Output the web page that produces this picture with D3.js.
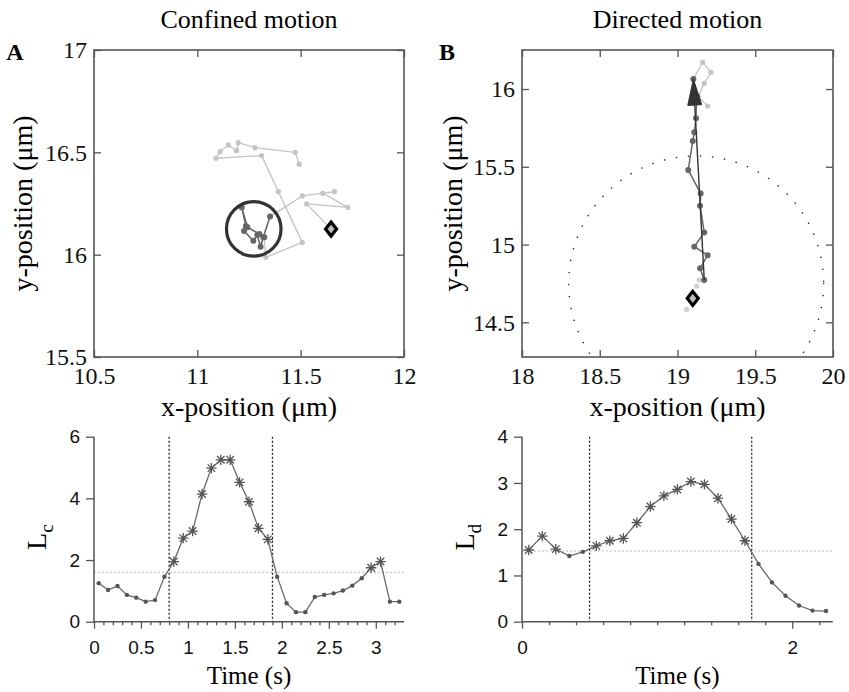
<!DOCTYPE html>
<html><head><meta charset="utf-8">
<script src="https://cdn.jsdelivr.net/npm/d3@7"></script>
<style>body{margin:0;background:#fff} svg{display:block}</style>
</head><body><svg id="c" width="849" height="692"></svg>
<script>
// ---------------- DATA ----------------
const titles = ["Confined motion", "Directed motion"];
const panelLetters = ["A", "B"];
const xLabelTop = "x-position (\u03bcm)";
const yLabelTop = "y-position (\u03bcm)";
const xLabelBottom = "Time (s)";

// Panel A trajectory (µm)
const aPreX = [11.647, 11.529, 11.728, 11.607, 11.663, 11.508];
const aPreY = [16.125, 16.248, 16.231, 16.300, 16.308, 16.287];
const aConfX = [11.352, 11.319, 11.306, 11.290, 11.271, 11.226, 11.235, 11.215, 11.242, 11.300, 11.324];
const aConfY = [16.186, 16.085, 16.039, 16.096, 16.068, 16.116, 16.140, 16.231, 16.134, 16.101, 16.085];
const aPostX = [11.331, 11.508, 11.392, 11.311, 11.090, 11.110, 11.150, 11.190, 11.198, 11.279, 11.473, 11.493];
const aPostY = [15.987, 16.060, 16.308, 16.484, 16.471, 16.503, 16.536, 16.508, 16.547, 16.523, 16.500, 16.442];
const aCircle = [11.273, 16.126, 0.132]; // centre x, centre y, radius (µm)
const aXTicks = [10.5, 11, 11.5, 12];
const aYTicks = [15.5, 16, 16.5, 17];

// Panel B trajectory (µm)
const bPreX = [19.098, 19.059, 19.123, 19.140];
const bPreY = [14.654, 14.583, 14.733, 14.772];
const bDirX = [19.172, 19.145, 19.194, 19.108, 19.172, 19.145, 19.149, 19.069, 19.098, 19.108, 19.119, 19.123, 19.102];
const bDirY = [14.772, 14.847, 14.932, 14.986, 15.078, 15.250, 15.329, 15.479, 15.666, 15.722, 15.812, 15.955, 16.064];
const bPostX = [19.162, 19.215, 19.172, 19.134, 19.194];
const bPostY = [16.172, 16.107, 16.037, 15.951, 15.891];
const bCircle = [19.12, 14.75, 0.82];
const bXTicks = [18, 18.5, 19, 19.5, 20];
const bYTicks = [14.5, 15, 15.5, 16];

// Lc (confined) vs time
const lcTime = [0.05,0.15,0.25,0.35,0.45,0.55,0.65,0.75,0.85,0.95,1.05,1.15,1.25,1.35,1.45,1.55,1.65,1.75,1.85,1.95,2.05,2.15,2.25,2.35,2.45,2.55,2.65,2.75,2.85,2.95,3.05,3.15,3.25];
const lcValues = [1.25,1.03,1.16,0.87,0.78,0.65,0.70,1.46,1.95,2.71,2.94,4.14,4.98,5.25,5.25,4.52,3.89,3.03,2.67,1.46,0.60,0.31,0.31,0.80,0.87,0.92,1.01,1.17,1.41,1.75,1.95,0.65,0.65];
const lcThreshold = 1.6;
const lcWindow = [0.8, 1.9];
const lcXTicks = [0, 0.5, 1, 1.5, 2, 2.5, 3];
const lcYTicks = [0, 2, 4, 6];

// Ld (directed) vs time
const ldTime = [0.05,0.15,0.25,0.35,0.45,0.55,0.65,0.75,0.85,0.95,1.05,1.15,1.25,1.35,1.45,1.55,1.65,1.75,1.85,1.95,2.05,2.15,2.25];
const ldValues = [1.55,1.85,1.57,1.42,1.51,1.64,1.75,1.80,2.14,2.49,2.72,2.86,3.03,2.97,2.67,2.22,1.75,1.25,0.85,0.56,0.35,0.24,0.23];
const ldThreshold = 1.53;
const ldWindow = [0.5, 1.7];
const ldXTicks = [0, 2];
const ldYTicks = [0, 1, 2, 3, 4];

// ---------------- DRAWING ----------------
const svg = d3.select("#c");
const SERIF = "'Liberation Serif','Times New Roman',serif";
const SANS = "'Liberation Sans',Arial,sans-serif";
const LIGHT = "#c4c4c4", FRAME = "#555";

const zip = (xs, ys) => xs.map((x, i) => [x, ys[i]]);

function topPanel(o) {
  const x = d3.scaleLinear(o.xd, [o.x0, o.x1]);
  const y = d3.scaleLinear(o.yd, [o.y1, o.y0]);
  const g = svg.append("g");
  const clipId = "clip" + o.id;
  svg.append("clipPath").attr("id", clipId).append("rect")
    .attr("x", o.x0).attr("y", o.y0).attr("width", o.x1 - o.x0).attr("height", o.y1 - o.y0);
  const inner = g.append("g").attr("clip-path", `url(#${clipId})`);
  o.draw(inner, x, y);

  const styleAxis = (sel, labels) => {
    sel.select(".domain").remove();
    sel.selectAll(".tick line").attr("stroke", FRAME).attr("stroke-width", 1.3);
    sel.selectAll(".tick text").attr("font-family", SERIF).attr("font-size", 24).attr("fill", "#111");
    if (!labels) sel.selectAll(".tick text").remove();
  };
  g.append("g").attr("transform", `translate(0,${o.y1})`)
    .call(d3.axisBottom(x).tickValues(o.xt).tickSize(-7).tickPadding(10).tickFormat(d3.format("")))
    .call(s => styleAxis(s, true));
  g.append("g").attr("transform", `translate(0,${o.y0})`)
    .call(d3.axisTop(x).tickValues(o.xt).tickSize(-7)).call(s => styleAxis(s, false));
  g.append("g").attr("transform", `translate(${o.x0},0)`)
    .call(d3.axisLeft(y).tickValues(o.yt).tickSize(-7).tickPadding(7).tickFormat(d3.format("")))
    .call(s => styleAxis(s, true));
  g.append("g").attr("transform", `translate(${o.x1},0)`)
    .call(d3.axisRight(y).tickValues(o.yt).tickSize(-7)).call(s => styleAxis(s, false));
  g.append("rect").attr("x", o.x0).attr("y", o.y0).attr("width", o.x1 - o.x0).attr("height", o.y1 - o.y0)
    .attr("fill", "none").attr("stroke", FRAME).attr("stroke-width", 1.6);

  g.append("text").attr("x", (o.x0 + o.x1) / 2).attr("y", 28).attr("text-anchor", "middle")
    .attr("font-family", SERIF).attr("font-size", 26).text(o.title);
  g.append("text").attr("x", o.letterX).attr("y", 60).attr("text-anchor", "middle")
    .attr("font-family", SERIF).attr("font-weight", "bold").attr("font-size", 24).text(o.letter);
  g.append("text").attr("x", (o.x0 + o.x1) / 2).attr("y", 416).attr("text-anchor", "middle")
    .attr("font-family", SERIF).attr("font-size", 28).text(xLabelTop);
  g.append("text").attr("transform", `translate(${o.yLabX},${(o.y0 + o.y1) / 2}) rotate(-90)`)
    .attr("text-anchor", "middle").attr("font-family", SERIF).attr("font-size", 28).text(yLabelTop);
}

function track(g, x, y, pts, color, r, w) {
  g.append("path").datum(pts).attr("fill", "none").attr("stroke", color).attr("stroke-width", w)
    .attr("stroke-linejoin", "round")
    .attr("d", d3.line().x(d => x(d[0])).y(d => y(d[1])));
  g.selectAll(null).data(pts).join("circle").attr("cx", d => x(d[0])).attr("cy", d => y(d[1]))
    .attr("r", r).attr("fill", color);
}

function diamond(g, x, y, p) {
  const cx = x(p[0]), cy = y(p[1]);
  g.append("path").attr("d", `M${cx},${cy - 7}L${cx + 5.5},${cy}L${cx},${cy + 7}L${cx - 5.5},${cy}Z`)
    .attr("fill", "#bbb").attr("stroke", "#000").attr("stroke-width", 3.2);
}

topPanel({
  id: "A", x0: 94, x1: 404, y0: 50, y1: 357, xd: [10.5, 12], yd: [15.5, 17],
  xt: aXTicks, yt: aYTicks, title: titles[0], letter: panelLetters[0], letterX: 15, yLabX: 32,
  draw: (g, x, y) => {
    const pre = zip(aPreX, aPreY), conf = zip(aConfX, aConfY), post = zip(aPostX, aPostY);
    track(g, x, y, pre.concat([conf[0]]), LIGHT, 2.6, 1.3);
    track(g, x, y, [conf[conf.length - 1]].concat(post), LIGHT, 2.6, 1.3);
    track(g, x, y, conf, "#666", 3, 1.6);
    const rpx = x(aCircle[0] + aCircle[2]) - x(aCircle[0]);
    g.append("circle").attr("cx", x(aCircle[0])).attr("cy", y(aCircle[1])).attr("r", rpx)
      .attr("fill", "none").attr("stroke", "#333").attr("stroke-width", 3.2);
    diamond(g, x, y, pre[0]);
  }
});

topPanel({
  id: "B", x0: 522, x1: 833, y0: 50, y1: 357, xd: [18, 20], yd: [14.277, 16.251],
  xt: bXTicks, yt: bYTicks, title: titles[1], letter: panelLetters[1], letterX: 447, yLabX: 462,
  draw: (g, x, y) => {
    const pre = zip(bPreX, bPreY), dir = zip(bDirX, bDirY), post = zip(bPostX, bPostY);
    const rpx = x(bCircle[0] + bCircle[2]) - x(bCircle[0]);
    g.append("circle").attr("cx", x(bCircle[0])).attr("cy", y(bCircle[1])).attr("r", rpx)
      .attr("fill", "none").attr("stroke", "#222").attr("stroke-width", 1.5)
      .attr("stroke-linecap", "round").attr("stroke-dasharray", "0.1 12");
    g.selectAll(null).data(pre).join("circle").attr("cx", d => x(d[0])).attr("cy", d => y(d[1]))
      .attr("r", 2.6).attr("fill", "#d0d0d0");
    track(g, x, y, [dir[dir.length - 1]].concat(post), LIGHT, 2.6, 1.3);
    track(g, x, y, dir, "#666", 3, 1.5);
    const a = dir[0], b = dir[dir.length - 1];
    const ax = x(a[0]), ay = y(a[1]), bx = x(b[0]), by = y(b[1]);
    g.append("line").attr("x1", ax).attr("y1", ay).attr("x2", bx).attr("y2", by)
      .attr("stroke", "#333").attr("stroke-width", 1.4);
    const ang = Math.atan2(by - ay, bx - ax), L = 26, hw = 7;
    const px = bx - L * Math.cos(ang), py = by - L * Math.sin(ang);
    const nx = -Math.sin(ang), ny = Math.cos(ang);
    g.append("path").attr("d", `M${bx},${by}L${px + nx * hw},${py + ny * hw}L${px - nx * hw},${py - ny * hw}Z`)
      .attr("fill", "#333").attr("stroke", "#333").attr("stroke-width", 1);
    diamond(g, x, y, pre[0]);
  }
});

function bottomPanel(o) {
  const x = d3.scaleLinear(o.xd, [o.x0, o.x1]);
  const y = d3.scaleLinear(o.yd, [o.y1, o.y0]);
  const g = svg.append("g");
  g.append("line").attr("x1", o.x0).attr("x2", o.x1).attr("y1", y(o.thr)).attr("y2", y(o.thr))
    .attr("stroke", "#bbb").attr("stroke-width", 1).attr("stroke-dasharray", "2 2");
  o.win.forEach(t => g.append("line").attr("x1", x(t)).attr("x2", x(t)).attr("y1", o.y0).attr("y2", o.y1)
    .attr("stroke", "#222").attr("stroke-width", 1.3).attr("stroke-dasharray", "2 2"));
  const pts = zip(o.t, o.v);
  g.append("path").datum(pts).attr("fill", "none").attr("stroke", "#6a6a6a").attr("stroke-width", 1.3)
    .attr("d", d3.line().x(d => x(d[0])).y(d => y(d[1])));
  const s = 5.2, a = s * 0.72;
  const star = `M${-s},0H${s}M0,${-s}V${s}M${-a},${-a}L${a},${a}M${-a},${a}L${a},${-a}`;
  pts.forEach(d => {
    if (d[1] > o.thr) {
      g.append("path").attr("d", star).attr("transform", `translate(${x(d[0])},${y(d[1])})`)
        .attr("stroke", "#555").attr("stroke-width", 1.3).attr("fill", "none");
    } else {
      g.append("circle").attr("cx", x(d[0])).attr("cy", y(d[1])).attr("r", 2.2).attr("fill", "#555");
    }
  });
  const gx = g.append("g").attr("transform", `translate(0,${o.y1})`)
    .call(d3.axisBottom(x).tickValues(o.xt).tickSize(7).tickPadding(12).tickFormat(d3.format("")));
  const gxm = g.append("g").attr("transform", `translate(0,${o.y1})`)
    .call(d3.axisBottom(x).tickValues(o.minor).tickSize(3.5).tickFormat(""));
  const gy = g.append("g").attr("transform", `translate(${o.x0},0)`)
    .call(d3.axisLeft(y).tickValues(o.yt).tickSize(8).tickPadding(6).tickFormat(d3.format("")));
  [gx, gxm, gy].forEach(s => {
    s.select(".domain").attr("stroke", FRAME).attr("stroke-width", 1.5);
    s.selectAll(".tick line").attr("stroke", FRAME).attr("stroke-width", 1.3);
    s.selectAll(".tick text").attr("font-family", SANS).attr("font-size", 19).attr("fill", "#111");
  });
  gx.select(".domain").attr("d", `M${o.x0},0H${o.x1}`);
  gxm.select(".domain").remove();
  gy.select(".domain").attr("d", `M0,${o.y1}V${o.y0}`);
  g.append("text").attr("x", (o.x0 + o.x1) / 2).attr("y", 684).attr("text-anchor", "middle")
    .attr("font-family", SERIF).attr("font-size", 25).text(xLabelBottom);
  const lab = g.append("text").attr("transform", `translate(${o.labX},${(o.y0 + o.y1) / 2 + 8}) rotate(-90)`)
    .attr("text-anchor", "middle").attr("font-family", SERIF).attr("font-size", 28);
  lab.append("tspan").text("L");
  lab.append("tspan").attr("font-size", 19).attr("dy", 7).text(o.sub);
}

const lcMinor = d3.range(0, 33).map(i => i / 10).filter(t => Math.abs(t * 2 - Math.round(t * 2)) > 1e-6);
bottomPanel({ x0: 94, x1: 404, y0: 436.7, y1: 621.7, xd: [0, 3.3], yd: [0, 6], t: lcTime, v: lcValues,
  thr: lcThreshold, win: lcWindow, xt: lcXTicks, yt: lcYTicks, minor: lcMinor, labX: 46, sub: "c" });
const ldMinor = d3.range(1, 12).map(i => i / 5).filter(t => Math.abs(t - 2) > 1e-6);
bottomPanel({ x0: 522, x1: 832.8, y0: 436.7, y1: 621.7, xd: [0, 2.3], yd: [0, 4], t: ldTime, v: ldValues,
  thr: ldThreshold, win: ldWindow, xt: ldXTicks, yt: ldYTicks, minor: ldMinor, labX: 474, sub: "d" });
</script>
</body></html>
